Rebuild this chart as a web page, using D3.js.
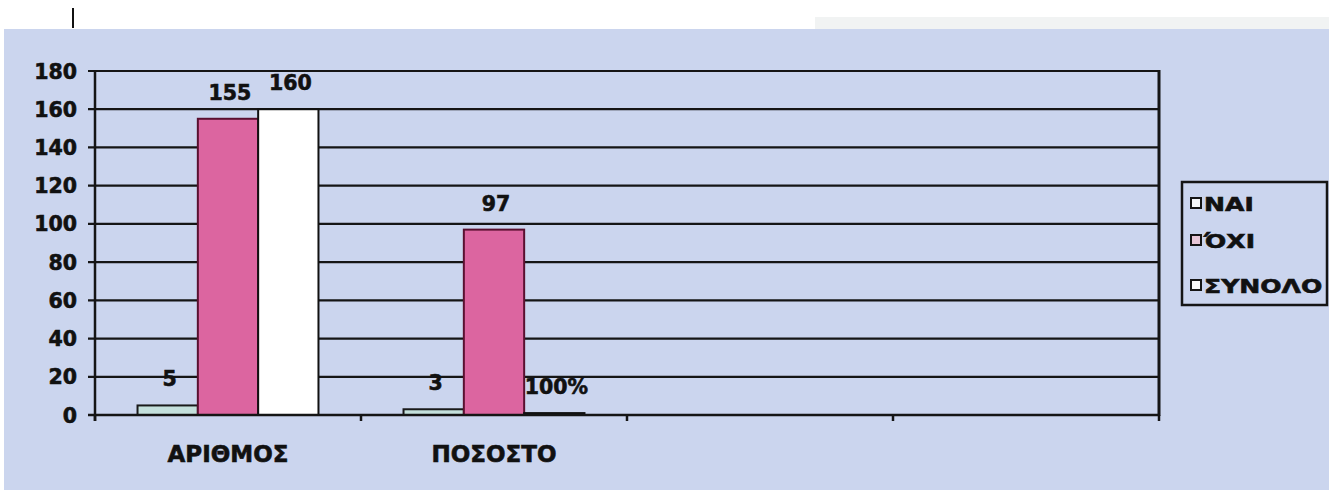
<!DOCTYPE html>
<html>
<head>
<meta charset="utf-8">
<script src="https://cdn.jsdelivr.net/npm/d3@7/dist/d3.min.js"></script>
<style>
  html, body { margin: 0; padding: 0; background: #ffffff; }
  svg { display: block; }
  text { font-family: "DejaVu Sans", sans-serif; font-weight: bold; fill: #111; stroke: #111; stroke-width: 0.6px; }
</style>
</head>
<body>
<svg id="chart" width="1329" height="490"></svg>
<script>
// ---- data ----
const categories = ["ΑΡΙΘΜΟΣ", "ΠΟΣΟΣΤΟ", "", ""];
const seriesNames = ["ΝΑΙ", "ΌΧΙ", "ΣΥΝΟΛΟ"];
const naiValues = [5, 3, null, null];
const oxiValues = [155, 97, null, null];
const synoloValues = [160, 1, null, null];
const naiLabels = ["5", "3", "", ""];
const oxiLabels = ["155", "97", "", ""];
const synoloLabels = ["160", "100%", "", ""];
const yTicks = [0, 20, 40, 60, 80, 100, 120, 140, 160, 180];

const seriesValues = [naiValues, oxiValues, synoloValues];
const seriesLabels = [naiLabels, oxiLabels, synoloLabels];
const seriesColors = ["#c4e0dc", "#dc65a0", "#ffffff"];
const seriesStroke = ["#1a1a1a", "#5a1030", "#111111"];
const legendFill = ["#f4f6f8", "#e7c6d6", "#f8f8f8"];

const svg = d3.select("#chart");

// background
svg.append("rect").attr("x", 0).attr("y", 0).attr("width", 1329).attr("height", 490).attr("fill", "#ffffff");
svg.append("rect").attr("x", 815).attr("y", 17).attr("width", 514).attr("height", 15).attr("fill", "#f1f3f3");
svg.append("rect").attr("x", 4).attr("y", 29).attr("width", 1325).attr("height", 461).attr("fill", "#cbd5ee");
svg.append("line").attr("x1", 73).attr("x2", 73).attr("y1", 8).attr("y2", 28)
  .attr("stroke", "#111").attr("stroke-width", 2);

const pLeft = 95, pRight = 1159, pTop = 71, pBottom = 415;

const x = d3.scaleBand().domain(d3.range(categories.length)).range([pLeft, pRight]).padding(0);
const x1 = d3.scaleBand().domain(d3.range(seriesNames.length)).range([0, x.bandwidth()])
  .paddingInner(0).paddingOuter(0.705);
const y = d3.scaleLinear().domain([0, 180]).range([pBottom, pTop]);

// gridlines (with left ticks)
svg.append("g").selectAll("line").data(yTicks).join("line")
  .attr("x1", pLeft - 7).attr("x2", pRight)
  .attr("y1", d => y(d)).attr("y2", d => y(d))
  .attr("stroke", "#151515").attr("stroke-width", 2.2);

// right border
svg.append("line").attr("x1", pRight).attr("x2", pRight).attr("y1", pTop - 1).attr("y2", pBottom + 1)
  .attr("stroke", "#151515").attr("stroke-width", 3);

// y tick labels
svg.append("g").selectAll("text").data(yTicks).join("text")
  .attr("x", 77).attr("y", d => y(d) + 7.5)
  .attr("text-anchor", "end").attr("font-size", 20.5)
  .text(d => d);

// bars
const bars = [];
seriesValues.forEach((vals, s) => {
  vals.forEach((v, c) => {
    if (v !== null) bars.push({ s, c, v, label: seriesLabels[s][c] });
  });
});

svg.append("g").selectAll("rect").data(bars).join("rect")
  .attr("x", d => x(d.c) + x1(d.s))
  .attr("y", d => y(d.v))
  .attr("width", x1.bandwidth())
  .attr("height", d => y(0) - y(d.v))
  .attr("fill", d => seriesColors[d.s])
  .attr("stroke", d => seriesStroke[d.s])
  .attr("stroke-width", 2);

// value labels
svg.append("g").selectAll("text").data(bars).join("text")
  .attr("x", d => x(d.c) + x1(d.s) + x1.bandwidth() / 2 + 2)
  .attr("y", d => y(d.v) - 19)
  .attr("text-anchor", "middle").attr("font-size", 20.5)
  .text(d => d.label);

// axes lines
svg.append("line").attr("x1", pLeft).attr("x2", pLeft).attr("y1", pTop - 1).attr("y2", pBottom + 6)
  .attr("stroke", "#151515").attr("stroke-width", 2.5);
svg.append("line").attr("x1", pLeft - 7).attr("x2", pRight).attr("y1", pBottom).attr("y2", pBottom)
  .attr("stroke", "#151515").attr("stroke-width", 2.5);

// x ticks at band boundaries
const boundaries = d3.range(categories.length + 1).map(i => i < categories.length ? x(i) : pRight);
svg.append("g").selectAll("line").data(boundaries).join("line")
  .attr("x1", d => d).attr("x2", d => d).attr("y1", pBottom).attr("y2", pBottom + 6)
  .attr("stroke", "#151515").attr("stroke-width", 2.5);

// category labels
svg.append("g").selectAll("text").data(categories).join("text")
  .attr("x", (d, i) => x(i) + x.bandwidth() / 2)
  .attr("y", 462)
  .attr("text-anchor", "middle").attr("font-size", 23)
  .text(d => d);

// legend
const lg = svg.append("g");
lg.append("rect").attr("x", 1182).attr("y", 182).attr("width", 145).attr("height", 123)
  .attr("fill", "#cbd5ee").attr("stroke", "#151515").attr("stroke-width", 2.5);
const legendY = [203, 240, 285];
const items = lg.selectAll("g").data(seriesNames).join("g")
  .attr("transform", (d, i) => `translate(1191,${legendY[i]})`);
items.append("rect").attr("x", 0).attr("y", -5).attr("width", 10).attr("height", 10)
  .attr("fill", (d, i) => legendFill[i]).attr("stroke", "#151515").attr("stroke-width", 2);
items.append("text").attr("x", 0).attr("y", 0)
  .attr("transform", "translate(13,8) scale(1.32,1.05)")
  .attr("font-size", 19)
  .text(d => d);
</script>
</body>
</html>
